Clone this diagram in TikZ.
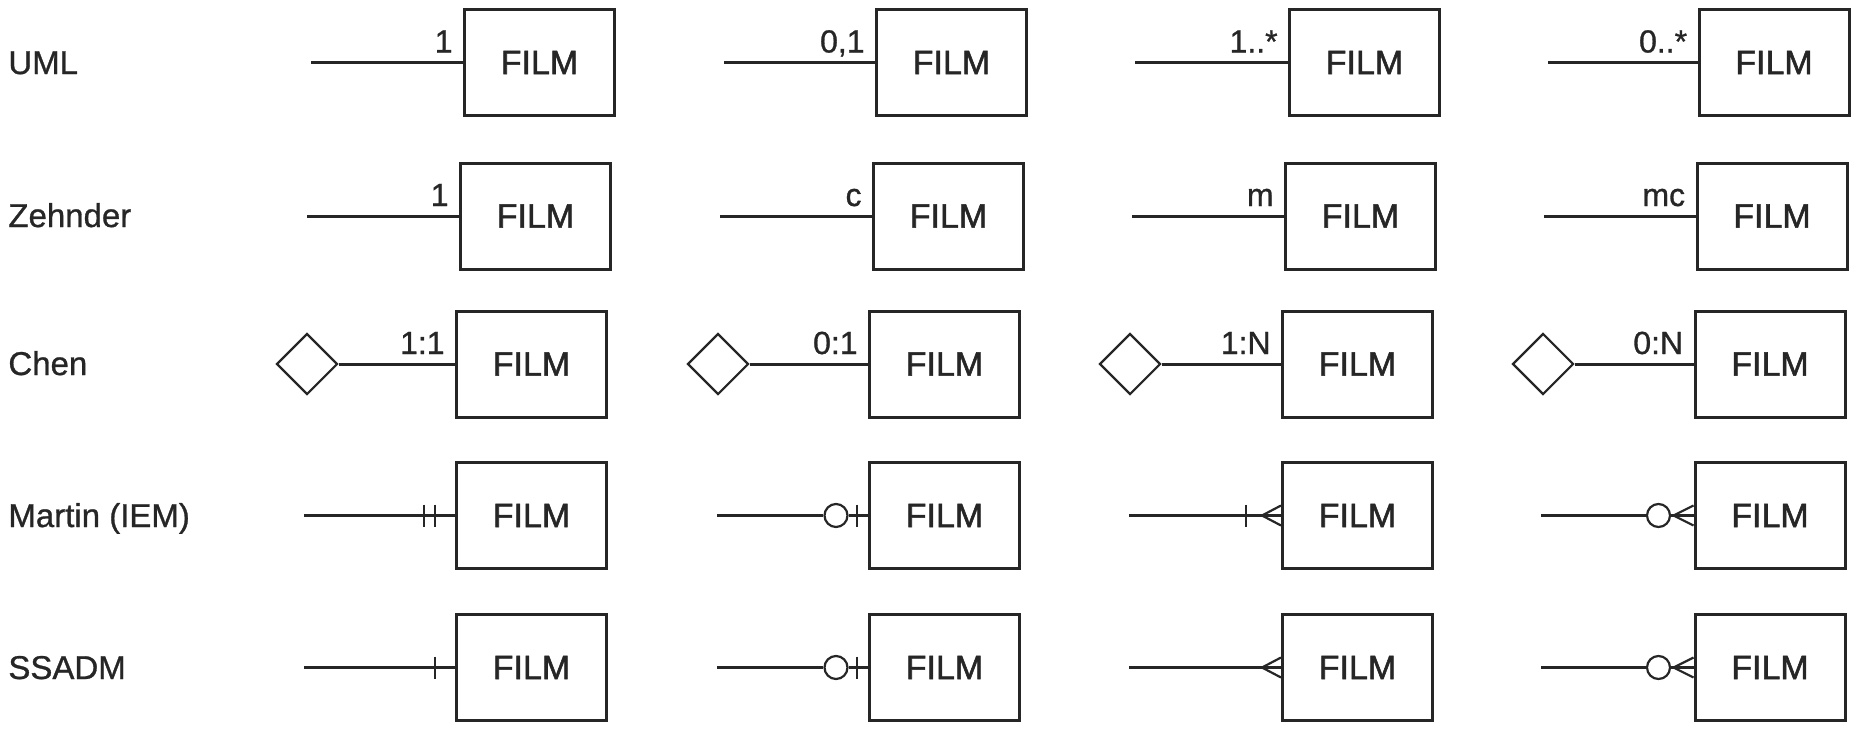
\documentclass[tikz,border=0pt]{standalone}
\usepackage{fontspec}
\setmainfont{Liberation Sans}
\newfontfamily\filmfont{Liberation Sans}[FakeBold=1.6]
\newfontfamily\lblfont{Liberation Sans}[FakeBold=0.9]
\usetikzlibrary{shapes.geometric}
\begin{document}
\begin{tikzpicture}[x=0.5pt,y=-0.5pt,
  ink/.style={draw=black!85},
  entity/.style={ink, line width=1.5pt, minimum width=75pt, minimum height=53pt, inner sep=0pt, text=black!85, font=\filmfont\fontsize{17}{20}\selectfont},
  conn/.style={ink, line width=1.5pt},
  thinconn/.style={ink, line width=1.1pt},
  sym/.style={ink, line width=1.1pt},
  rel/.style={ink, diamond, aspect=1, minimum width=30.5pt, minimum height=30.5pt, inner sep=0pt, line width=1.1pt},
  ring/.style={ink, circle, minimum size=11.5pt, inner sep=0pt, line width=1.1pt},
  card/.style={anchor=base east, inner sep=0pt, text=black!85, font=\lblfont\fontsize{16}{19}\selectfont},
  rowlabel/.style={anchor=base west, inner sep=0pt, text=black!85, font=\lblfont\fontsize{16.5}{20}\selectfont}
]
\useasboundingbox (0,0) rectangle (1852,734);

% row labels
\node[rowlabel] (l1) at (8,74) {UML};
\node[rowlabel] (l2) at (8,227) {Zehnder};
\node[rowlabel] (l3) at (8,375) {Chen};
\node[rowlabel] (l4) at (8,527) {Martin (IEM)};
\node[rowlabel] (l5) at (8,679) {SSADM};

% ---------- row 1: UML ----------
\node[entity] (b11) at (539.5,62.5) {FILM};
\node[entity] (b12) at (951.5,62.5) {FILM};
\node[entity] (b13) at (1364.5,62.5) {FILM};
\node[entity] (b14) at (1774,62.5) {FILM};
\coordinate (s11) at (311,62.5);
\coordinate (s12) at (724,62.5);
\coordinate (s13) at (1135,62.5);
\coordinate (s14) at (1548,62.5);
\draw[conn] (s11) -- (b11.west);
\draw[conn] (s12) -- (b12.west);
\draw[conn] (s13) -- (b13.west);
\draw[conn] (s14) -- (b14.west);
\node[card] (k11) at ([xshift=-5pt,yshift=5pt]b11.west) {1};
\node[card] (k12) at ([xshift=-5pt,yshift=5pt]b12.west) {0,1};
\node[card] (k13) at ([xshift=-5pt,yshift=5pt]b13.west) {1..*};
\node[card] (k14) at ([xshift=-5pt,yshift=5pt]b14.west) {0..*};

% ---------- row 2: Zehnder ----------
\node[entity] (b21) at (535.5,216) {FILM};
\node[entity] (b22) at (948.5,216) {FILM};
\node[entity] (b23) at (1360.5,216) {FILM};
\node[entity] (b24) at (1772,216) {FILM};
\coordinate (s21) at (307,216);
\coordinate (s22) at (720,216);
\coordinate (s23) at (1132,216);
\coordinate (s24) at (1544,216);
\draw[conn] (s21) -- (b21.west);
\draw[conn] (s22) -- (b22.west);
\draw[conn] (s23) -- (b23.west);
\draw[conn] (s24) -- (b24.west);
\node[card] (k21) at ([xshift=-5pt,yshift=5pt]b21.west) {1};
\node[card] (k22) at ([xshift=-5pt,yshift=5pt]b22.west) {c};
\node[card] (k23) at ([xshift=-5pt,yshift=5pt]b23.west) {m};
\node[card] (k24) at ([xshift=-5pt,yshift=5pt]b24.west) {mc};

% ---------- row 3: Chen ----------
\node[entity] (b31) at (531.5,364) {FILM};
\node[entity] (b32) at (944.5,364) {FILM};
\node[entity] (b33) at (1357.5,364) {FILM};
\node[entity] (b34) at (1770,364) {FILM};
\node[rel] (d31) at (307,364) {};
\node[rel] (d32) at (718,364) {};
\node[rel] (d33) at (1130,364) {};
\node[rel] (d34) at (1543,364) {};
\draw[conn] (d31.east) -- (b31.west);
\draw[conn] (d32.east) -- (b32.west);
\draw[conn] (d33.east) -- (b33.west);
\draw[conn] (d34.east) -- (b34.west);
\node[card] (k31) at ([xshift=-5pt,yshift=5pt]b31.west) {1:1};
\node[card] (k32) at ([xshift=-5pt,yshift=5pt]b32.west) {0:1};
\node[card] (k33) at ([xshift=-5pt,yshift=5pt]b33.west) {1:N};
\node[card] (k34) at ([xshift=-5pt,yshift=5pt]b34.west) {0:N};

% ---------- row 4: Martin (IEM) ----------
\node[entity] (b41) at (531.5,515.5) {FILM};
\node[entity] (b42) at (944.5,515.5) {FILM};
\node[entity] (b43) at (1357.5,515.5) {FILM};
\node[entity] (b44) at (1770,515.5) {FILM};
\coordinate (s41) at (304,515.5);
\coordinate (s42) at (717,515.5);
\coordinate (s43) at (1129,515.5);
\coordinate (s44) at (1541,515.5);
% 1..1
\draw[thinconn] (s41) -- (b41.west);
\draw[sym] ([xshift=-15.5pt,yshift=5.5pt]b41.west) -- ([xshift=-15.5pt,yshift=-5.5pt]b41.west);
\draw[sym] ([xshift=-10pt,yshift=5.5pt]b41.west) -- ([xshift=-10pt,yshift=-5.5pt]b41.west);
% 0..1
\node[ring] (c42) at ([xshift=-16pt]b42.west) {};
\draw[thinconn] (s42) -- (c42.west);
\draw[sym] (c42.east) -- (b42.west);
\draw[sym] ([xshift=-5.5pt,yshift=5.5pt]b42.west) -- ([xshift=-5.5pt,yshift=-5.5pt]b42.west);
% 1..N
\draw[thinconn] (s43) -- (b43.west);
\draw[sym] ([xshift=-17.5pt,yshift=5.5pt]b43.west) -- ([xshift=-17.5pt,yshift=-5.5pt]b43.west);
\draw[sym] ([yshift=5pt]b43.west) -- ([xshift=-9.5pt]b43.west) -- ([yshift=-5pt]b43.west);
% 0..N
\node[ring] (c44) at ([xshift=-17.5pt]b44.west) {};
\draw[thinconn] (s44) -- (c44.west);
\draw[sym] (c44.east) -- (b44.west);
\draw[sym] ([yshift=5pt]b44.west) -- ([xshift=-10pt]b44.west) -- ([yshift=-5pt]b44.west);

% ---------- row 5: SSADM ----------
\node[entity] (b51) at (531.5,667.5) {FILM};
\node[entity] (b52) at (944.5,667.5) {FILM};
\node[entity] (b53) at (1357.5,667.5) {FILM};
\node[entity] (b54) at (1770,667.5) {FILM};
\coordinate (s51) at (304,667.5);
\coordinate (s52) at (717,667.5);
\coordinate (s53) at (1129,667.5);
\coordinate (s54) at (1541,667.5);
% 1
\draw[conn] (s51) -- (b51.west);
\draw[sym] ([xshift=-10pt,yshift=5.5pt]b51.west) -- ([xshift=-10pt,yshift=-5.5pt]b51.west);
% 0..1
\node[ring] (c52) at ([xshift=-16pt]b52.west) {};
\draw[conn] (s52) -- (c52.west);
\draw[sym] (c52.east) -- (b52.west);
\draw[sym] ([xshift=-5.5pt,yshift=5.5pt]b52.west) -- ([xshift=-5.5pt,yshift=-5.5pt]b52.west);
% many
\draw[conn] (s53) -- (b53.west);
\draw[sym] ([yshift=5pt]b53.west) -- ([xshift=-9.5pt]b53.west) -- ([yshift=-5pt]b53.west);
% 0..N
\node[ring] (c54) at ([xshift=-17.5pt]b54.west) {};
\draw[conn] (s54) -- (c54.west);
\draw[sym] (c54.east) -- (b54.west);
\draw[sym] ([yshift=5pt]b54.west) -- ([xshift=-10pt]b54.west) -- ([yshift=-5pt]b54.west);
\end{tikzpicture}
\end{document}
